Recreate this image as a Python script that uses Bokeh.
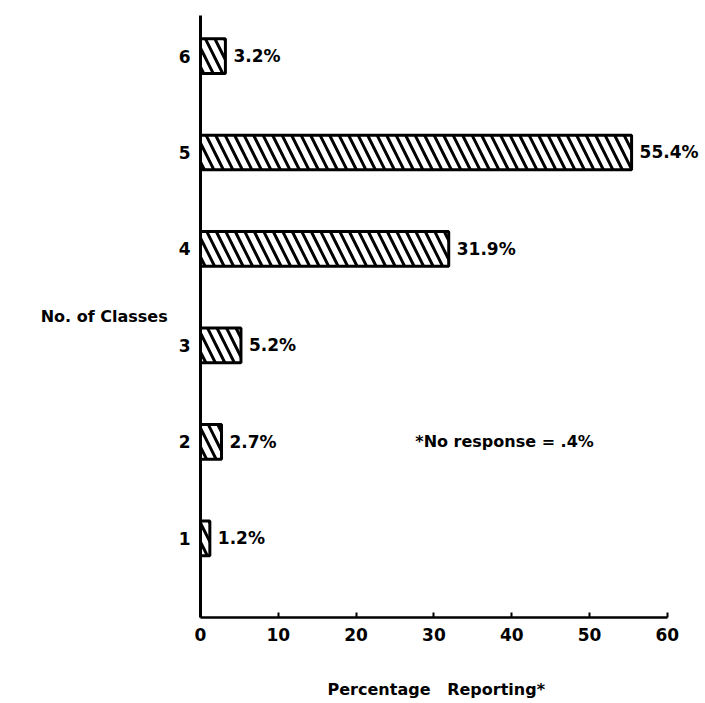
from bokeh.plotting import figure
from bokeh.models import ColumnDataSource, FixedTicker, Label, Range1d
from bokeh.core.properties import value
from bokeh.embed import file_html
from bokeh.resources import INLINE

classes = [1, 2, 3, 4, 5, 6]
percent = [1.2, 2.7, 5.2, 31.9, 55.4, 3.2]
value_labels = ["1.2%", "2.7%", "5.2%", "31.9%", "55.4%", "3.2%"]
x_ticks = [0, 10, 20, 30, 40, 50, 60]
note_text = "*No response = .4%"
x_title = "Percentage\u00a0\u00a0\u00a0Reporting*" + "\u00a0" * 6
y_title = "No. of Classes"

FONT = "DejaVu Sans"

src = ColumnDataSource(dict(c=classes, v=percent, lab=value_labels))

p = figure(width=705, height=703, output_backend="svg", toolbar_location=None,
           x_range=Range1d(0, 64.9), y_range=Range1d(0.18, 6.42),
           min_border_left=200, min_border_right=0, min_border_top=15,
           min_border_bottom=86)
p.outline_line_color = None
p.xgrid.visible = False
p.ygrid.visible = False

p.hbar(y="c", right="v", left=0, height=0.36, source=src,
       fill_color="white", line_color="black", line_width=3,
       hatch_pattern="\\", hatch_color="black", hatch_weight=3,
       hatch_scale=19)

p.text(x="v", y="c", text="lab", source=src, x_offset=8,
       text_baseline="middle", text_align="left",
       text_font=value(FONT), text_font_style="bold",
       text_font_size="17px", text_color="black")

p.add_layout(Label(x=27.6, y=2, text=note_text, text_baseline="middle",
                   text_font=FONT, text_font_style="bold",
                   text_font_size="16px", text_color="black"))

xa = p.xaxis[0]
xa.ticker = FixedTicker(ticks=x_ticks)
xa.bounds = (0, 60)
xa.axis_line_width = 2.5
xa.axis_line_color = "black"
xa.major_tick_in = 5
xa.major_tick_out = 0
xa.major_tick_line_width = 2
xa.minor_tick_line_color = None
xa.major_label_text_font = FONT
xa.major_label_text_font_style = "bold"
xa.major_label_text_font_size = "17px"
xa.major_label_text_color = "black"
xa.major_label_standoff = 10
xa.axis_label = x_title
xa.axis_label_text_font = FONT
xa.axis_label_text_font_style = "bold"
xa.axis_label_text_font_size = "16px"
xa.axis_label_text_color = "black"
xa.axis_label_standoff = 36

ya = p.yaxis[0]
ya.ticker = FixedTicker(ticks=classes)
ya.axis_line_width = 3
ya.axis_line_color = "black"
ya.major_tick_line_color = None
ya.minor_tick_line_color = None
ya.major_label_text_font = FONT
ya.major_label_text_font_style = "bold"
ya.major_label_text_font_size = "17px"
ya.major_label_text_color = "black"
ya.major_label_standoff = 4
ya.axis_label = y_title
ya.axis_label_orientation = "horizontal"
ya.axis_label_text_font = FONT
ya.axis_label_text_font_style = "bold"
ya.axis_label_text_font_size = "16px"
ya.axis_label_text_color = "black"
ya.axis_label_standoff = 8

open("out.html", "w").write(file_html(p, INLINE))
